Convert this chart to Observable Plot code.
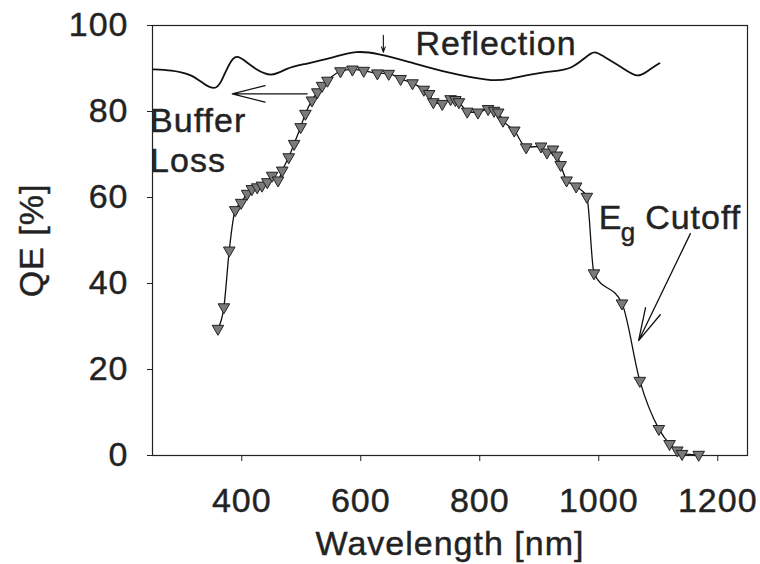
<!DOCTYPE html>
<html><head><meta charset="utf-8">
<script src="https://cdn.jsdelivr.net/npm/d3@7"></script>
<script src="https://cdn.jsdelivr.net/npm/@observablehq/plot@0.6"></script>
<style>
html,body{margin:0;padding:0;background:#fff;}
#chart svg{display:block;}
#chart svg text{letter-spacing:1px;stroke:#2a2a2a;stroke-width:0.45px;}
</style>
</head><body><div id="chart"></div>
<script>
// QE measurement (triangles)
const qeWavelength = [360,370,379,389,399,409,417,426,434,443,451,461,468,479,488,499,507,518,527,535,544,566,586,605,628,647,667,687,706,715,722,737,751,759,765,779,797,814,824,831,839,858,878,903,913,923,930,936,946,962,980,992,1039,1069,1101,1119,1132,1140,1168];
const qeValue      = [29.5,34.5,47.7,57.1,58.8,60.9,62.0,62.4,62.8,63.6,65.1,64.0,66.3,69.4,72.5,76.4,79.5,82.6,84.5,86.0,87.2,89.4,89.8,89.5,88.9,88.8,87.6,86.6,85.1,84.1,82.2,81.8,82.9,82.7,82.2,80.0,79.8,80.6,80.2,79.8,77.9,75.6,71.7,71.9,70.5,71.2,69.8,67.6,64.0,62.6,60.2,42.4,35.4,17.4,6.2,2.7,1.2,0.4,0.2];

// Reflection curve
const reflWavelength = [252,282,314,337,353,366,385,404,424,450,476,508,553,592,631,682,747,812,850,908,954,986,1006,1038,1064,1083,1102];
const reflValue      = [89.8,89.5,88.4,86.4,85.5,87.2,92.2,91.9,89.9,88.6,89.9,91.1,92.6,93.8,93.3,91.5,89.1,87.4,87.6,89.1,90.3,93.4,93.0,90.3,88.4,89.5,91.2];

// Axis ticks
const xTicks = [400,600,800,1000,1200];
const yTicks = [0,20,40,60,80,100];

// Annotation arrows (data units)
// Buffer Loss arrow
const bufferArrowX1 = [510];
const bufferArrowY1 = [84.1];
const bufferArrowX2 = [384];
const bufferArrowY2 = [84.1];
// Eg Cutoff arrow
const cutoffArrowX1 = [1154];
const cutoffArrowY1 = [51.6];
const cutoffArrowX2 = [1067];
const cutoffArrowY2 = [26.7];
// small Reflection arrow
const reflArrowX1 = [638];
const reflArrowY1 = [97.7];
const reflArrowX2 = [638];
const reflArrowY2 = [93.8];

// Annotation labels (data units)
const labelText = ["Reflection","Buffer","Loss","E","Cutoff"];
const labelX    = [692, 246, 246, 1000, 1078];
const labelY    = [95.6, 77.7, 68.4, 55.3, 55.3];
const subText = ["g"];
const subX = [1037];
const subY = [51.9];

const qe = qeWavelength.map((w, i) => ({w, v: qeValue[i]}));
const refl = reflWavelength.map((w, i) => ({w, v: reflValue[i]}));
const toArrows = (X1, Y1, X2, Y2) => X1.map((d, i) => ({x1: d, y1: Y1[i], x2: X2[i], y2: Y2[i]}));
const reflArrow = toArrows(reflArrowX1, reflArrowY1, reflArrowX2, reflArrowY2);

const W = 760, H = 564, mL = 152, mR = 13, mT = 25, mB = 109;
const xDomain = [250, 1250], yDomain = [0, 100];
const pxPerX = (W - mL - mR) / (xDomain[1] - xDomain[0]);
const pxPerY = (H - mT - mB) / (yDomain[1] - yDomain[0]);
// Long arrowheads: extend the tail (hidden by insetStart) so the head is not capped by the shaft length
function longHead(X1, Y1, X2, Y2, k) {
  return X1.map((d, i) => {
    const dx = d - X2[i], dy = Y1[i] - Y2[i];
    const len = Math.hypot(dx * pxPerX, dy * pxPerY);
    return {x1: X2[i] + k * dx, y1: Y2[i] + k * dy, x2: X2[i], y2: Y2[i], inset: (k - 1) * len};
  });
}
const bufferArrow = longHead(bufferArrowX1, bufferArrowY1, bufferArrowX2, bufferArrowY2, 2.7);
const cutoffArrow = longHead(cutoffArrowX1, cutoffArrowY1, cutoffArrowX2, cutoffArrowY2, 1.7);

const labels = labelText.map((t, i) => ({t, x: labelX[i], y: labelY[i]}));
const subs = subText.map((t, i) => ({t, x: subX[i], y: subY[i]}));

const font = "'Liberation Sans', Arial, Helvetica, sans-serif";
const chart = Plot.plot({
  width: W, height: H,
  marginLeft: mL, marginRight: mR, marginTop: mT, marginBottom: mB,
  style: {fontFamily: font, fontSize: "34px", color: "#222", background: "#fff"},
  x: {domain: xDomain},
  y: {domain: yDomain},
  marks: [
    Plot.frame({stroke: "#222", strokeWidth: 1.2}),
    Plot.axisX({ticks: xTicks, tickSize: 6, tickPadding: 26, label: null, fontSize: 34, tickFormat: d => String(d)}),
    Plot.axisY({ticks: yTicks, tickSize: 5, tickPadding: 19, label: null, fontSize: 34, tickFormat: d => String(d)}),
    Plot.line(refl, {x: "w", y: "v", curve: "natural", stroke: "#111", strokeWidth: 1.8}),
    Plot.line(qe, {x: "w", y: "v", curve: "monotone-x", stroke: "#111", strokeWidth: 1.3}),
    Plot.dot(qe, {x: "w", y: "v", symbol: "triangle", rotate: 180, r: 4.3, fill: "#7a7a7a", stroke: "#222", strokeWidth: 1}),
    Plot.arrow(bufferArrow, {x1: "x1", y1: "y1", x2: "x2", y2: "y2", insetStart: bufferArrow[0].inset, headAngle: 28, headLength: 39, stroke: "#111", strokeWidth: 1.3}),
    Plot.arrow(cutoffArrow, {x1: "x1", y1: "y1", x2: "x2", y2: "y2", insetStart: cutoffArrow[0].inset, headAngle: 28, headLength: 39, stroke: "#111", strokeWidth: 1.3}),
    Plot.arrow(reflArrow, {x1: "x1", y1: "y1", x2: "x2", y2: "y2", headAngle: 40, headLength: 8, stroke: "#111", strokeWidth: 1.1}),
    Plot.text(labels, {x: "x", y: "y", text: "t", textAnchor: "start", fontSize: 34, fill: "#222"}),
    Plot.text(subs, {x: "x", y: "y", text: "t", textAnchor: "start", fontSize: 26, fill: "#222"}),
    Plot.text(["Wavelength [nm]"], {frameAnchor: "bottom", lineAnchor: "middle", textAnchor: "middle", dy: 89, fontSize: 34, fill: "#222"}),
    Plot.text(["QE [%]"], {frameAnchor: "left", lineAnchor: "middle", textAnchor: "middle", dx: -120, dy: 0, rotate: -90, fontSize: 34, fill: "#222"})
  ]
});
document.getElementById("chart").appendChild(chart);
</script>
</body></html>
